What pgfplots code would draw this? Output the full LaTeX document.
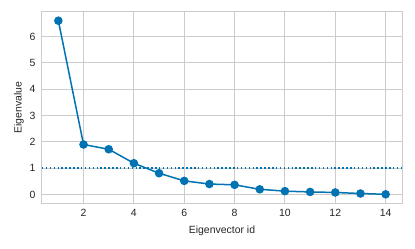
\documentclass[border=0pt]{standalone}
\usepackage{pgfplots}
\pgfplotsset{compat=1.18}
\usepackage{fontspec}
\setmainfont{Liberation Sans}
\definecolor{sbblue}{HTML}{0173B2}
\definecolor{gridgray}{HTML}{CCCCCC}
\definecolor{txt}{HTML}{262626}
\begin{document}
\begin{tikzpicture}
\begin{axis}[
  name=ax,
  scale only axis,
  width=360bp, height=191bp,
  xmin=0.35, xmax=14.65,
  ymin=-0.32, ymax=6.93,
  xtick={2,4,...,14},
  ytick={0,1,...,6},
  grid=major,
  major grid style={gridgray, line width=1bp},
  axis line style={gridgray, line width=1bp},
  major tick length=0pt,
  tick label style={font=\fontsize{10.5}{12}\selectfont, text=txt},
  label style={font=\fontsize{10.5}{12}\selectfont, text=txt},
  /pgf/number format/assume math mode=true,
  xlabel={Eigenvector id},
  ylabel={Eigenvalue},
  xticklabel style={yshift=-3bp},
  yticklabel style={xshift=-3bp},
  xlabel style={yshift=-2bp},
  ylabel style={yshift=-1bp},
]
\addplot[sbblue, line width=1.5bp, dash pattern=on 1.5bp off 2.4bp, forget plot] coordinates {(0.35,1) (14.65,1)};
\addplot[sbblue, line width=1.5bp, mark=*, mark size=3.5bp, mark options={solid, fill=sbblue, draw=sbblue}] coordinates {
(1,6.60) (2,1.90) (3,1.72) (4,1.19) (5,0.81) (6,0.52) (7,0.40) (8,0.37) (9,0.20) (10,0.13) (11,0.10) (12,0.08) (13,0.04) (14,0.01)
};
\end{axis}
\pgfresetboundingbox
\path ([shift={(-42bp,-46bp)}]ax.south west) rectangle ([shift={(13bp,12bp)}]ax.north east);
\end{tikzpicture}
\end{document}
